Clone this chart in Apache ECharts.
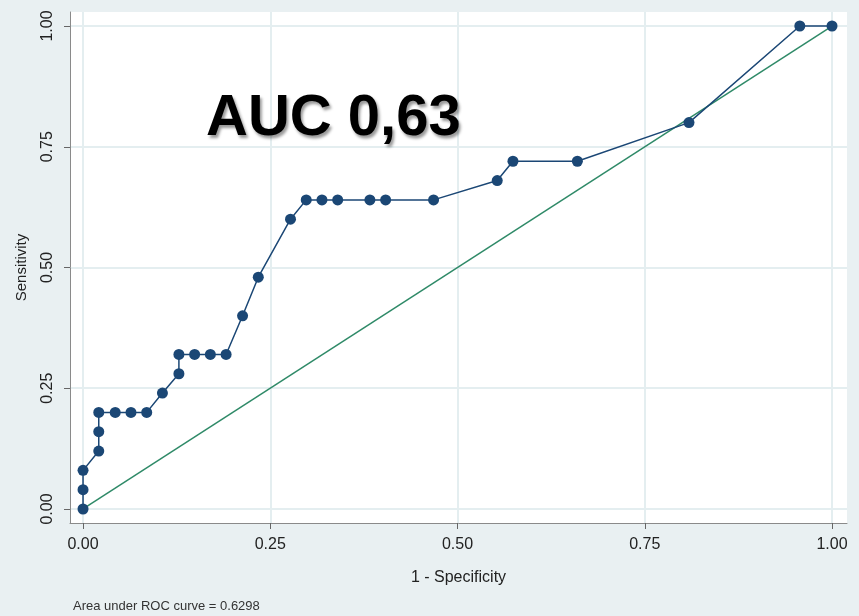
<!DOCTYPE html>
<html>
<head>
<meta charset="utf-8">
<style>
  html, body { margin: 0; padding: 0; background: #e9f0f2; }
  #roc { width: 859px; height: 616px; }
</style>
<script src="https://cdn.jsdelivr.net/npm/echarts@6/dist/echarts.min.js"></script>
</head>
<body>
<div id="roc"></div>
<script>
// 1 - specificity and sensitivity
var fpr = [0, 0, 0, 0.021, 0.021, 0.021, 0.043, 0.064, 0.085, 0.106, 0.128, 0.128,
           0.149, 0.170, 0.191, 0.213, 0.234, 0.277, 0.298, 0.319, 0.340, 0.383,
           0.404, 0.468, 0.553, 0.574, 0.660, 0.809, 0.957, 1];
var tpr = [0, 0.04, 0.08, 0.12, 0.16, 0.20, 0.20, 0.20, 0.20, 0.24, 0.28, 0.32,
           0.32, 0.32, 0.32, 0.40, 0.48, 0.60, 0.64, 0.64, 0.64, 0.64,
           0.64, 0.64, 0.68, 0.72, 0.72, 0.80, 1, 1];
var diagX = [0, 1];
var diagY = [0, 1];
var tickValues = [0, 0.25, 0.5, 0.75, 1];

var rocPoints = fpr.map(function (v, i) { return [v, tpr[i]]; });
var diagPoints = diagX.map(function (v, i) { return [v, diagY[i]]; });

var chart = echarts.init(document.getElementById('roc'));
var fmt = function (v) { return v.toFixed(2); };
var grid = '#e4eef0';

var option = {
    backgroundColor: '#e9f0f2',
    animation: false,
    textStyle: { fontFamily: 'Liberation Sans' },
    grid: {
        left: 70, right: 12, top: 12, bottom: 93,
        show: true, backgroundColor: '#ffffff', borderWidth: 0
    },
    xAxis: {
        type: 'value',
        min: -0.0174, max: 1.02,
        name: '1 - Specificity',
        nameLocation: 'middle',
        nameGap: 47,
        nameTextStyle: { fontSize: 16, color: '#222' },
        axisLine: { show: true, onZero: false, lineStyle: { color: '#8a8a8a', width: 1 } },
        axisTick: { show: true, length: 6, customValues: tickValues, lineStyle: { color: '#666' } },
        axisLabel: { customValues: tickValues, formatter: fmt, fontSize: 16, color: '#222', margin: 14 },
        splitLine: { show: true, lineStyle: { color: grid, width: 2 } }
    },
    yAxis: {
        type: 'value',
        min: -0.029, max: 1.029,
        name: 'Sensitivity',
        nameLocation: 'middle',
        nameGap: 41,
        nameTextStyle: { fontSize: 15, color: '#222' },
        axisLine: { show: true, onZero: false, lineStyle: { color: '#8a8a8a', width: 1 } },
        axisTick: { show: true, length: 6, customValues: tickValues, lineStyle: { color: '#666' } },
        axisLabel: { customValues: tickValues, formatter: fmt, fontSize: 16, color: '#222', rotate: 90, margin: 14 },
        splitLine: { show: true, lineStyle: { color: grid, width: 2 } }
    },
    series: [
        {
            name: 'reference',
            type: 'line',
            data: diagPoints,
            showSymbol: false,
            lineStyle: { color: '#2f8a68', width: 1.5 },
            z: 2
        },
        {
            name: 'ROC',
            type: 'line',
            data: rocPoints,
            symbol: 'circle',
            symbolSize: 11,
            itemStyle: { color: '#1b4775' },
            lineStyle: { color: '#1b4775', width: 1.5 },
            z: 3
        }
    ],
    graphic: [
        {
            type: 'text',
            left: 206, top: 90,
            style: {
                text: 'AUC 0,63',
                font: 'bold 58px "Liberation Sans"',
                fill: '#000',
                textShadowColor: 'rgba(0,0,0,0.4)',
                textShadowBlur: 3,
                textShadowOffsetX: 2,
                textShadowOffsetY: 3
            },
            z: 10
        },
        {
            type: 'text',
            left: 73, top: 600,
            style: {
                text: 'Area under ROC curve = 0.6298',
                font: '13px "Liberation Sans"',
                fill: '#333'
            }
        }
    ]
};

chart.setOption(option);
window.addEventListener('resize', function () {
    chart.resize();
});
</script>
</body>
</html>
